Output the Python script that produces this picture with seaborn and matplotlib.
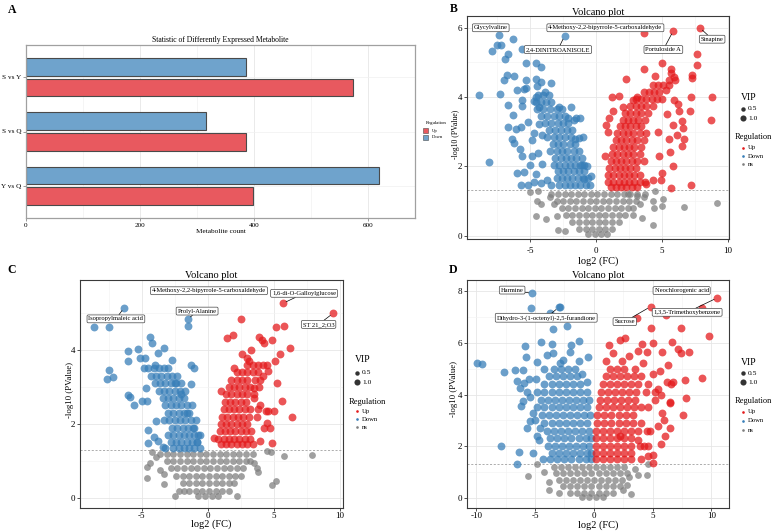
import matplotlib
matplotlib.use('Agg')
import matplotlib.pyplot as plt
from matplotlib.lines import Line2D
from matplotlib.patches import Rectangle
from matplotlib.ticker import MultipleLocator, FixedLocator
import pandas as pd
import seaborn as sns

plt.rcParams['font.family'] = ['Liberation Serif', 'DejaVu Serif']
plt.rcParams['axes.unicode_minus'] = False

# ---------------- Panel A data ----------------
comparisons = ['S vs Y', 'S vs Q', 'Y vs Q']
down_counts = [385, 315, 619]
up_counts = [574, 385, 398]

# ---------------- Panel B data (log2FC, -log10 P) ----------------
b_down = [
    (-8.9, 4.07), (-8.1, 2.11), (-7.4, 5.78), (-7.9, 5.33), (-7.5, 5.49), (-7.2, 5.51), (-6.3, 5.68),
    (-6.9, 5.1), (-6.7, 5.23), (-5.6, 5.39), (-2.4, 5.76), (-7.3, 4.1), (-7.0, 4.48), (-6.8, 4.65),
    (-6.2, 4.6), (-6.7, 3.76), (-6.3, 3.47), (-6.7, 3.12), (-6.1, 3.09), (-6.4, 2.8), (-6.2, 2.66),
    (-5.8, 2.51), (-5.3, 4.98), (-5.3, 4.48), (-5.5, 4.24), (-5.3, 4.27), (-6.0, 4.21), (-5.6, 3.9),
    (-5.6, 3.73), (-5.7, 3.14), (-5.2, 3.28), (-4.7, 2.95), (-4.9, 2.75), (-4.9, 2.29), (-6.0, 1.81),
    (-5.5, 1.84), (-5.7, 1.46), (-5.2, 1.46), (-4.6, 4.98), (-4.2, 4.87), (-4.6, 4.53), (-4.2, 4.43),
    (-4.5, 4.32), (-3.4, 4.40), (-3.9, 4.15), (-4.6, 4.0), (-4.7, 3.89), (-4.3, 3.71), (-4.3, 3.23),
    (-4.1, 2.9), (-4.4, 2.37), (-4.1, 2.08), (-4.6, 1.79), (-4.2, 1.51), (-3.7, 1.6), (-3.4, 1.46),
    (-4.7, 1.54), (-2.8, 3.7), (-2.1, 3.4), (-1.7, 3.35), (-1.6, 2.8), (-1.1, 2.05), (-0.4, 1.72),
    (-0.9, 1.62), (-5.0, 2.05), (-5.6, 2.3), (-1.9, 3.72), (-1.5, 3.39), (-1.2, 3.39), (-1.3, 2.81),
    (-1.0, 2.84), (-0.7, 2.0),
    (-4.4, 4.05), (-4.0, 4.05), (-3.6, 4.05),
    (-4.6, 3.85), (-4.2, 3.85), (-3.8, 3.85), (-3.4, 3.85),
    (-4.5, 3.65), (-4.0, 3.65), (-3.5, 3.65), (-3.0, 3.65), (-2.6, 3.65),
    (-4.2, 3.45), (-3.7, 3.45), (-3.2, 3.45), (-2.8, 3.45), (-2.4, 3.45),
    (-3.9, 3.25), (-3.4, 3.25), (-2.9, 3.25), (-2.5, 3.25), (-2.1, 3.25),
    (-3.6, 3.05), (-3.1, 3.05), (-2.7, 3.05), (-2.2, 3.05), (-1.8, 3.05),
    (-3.7, 2.85), (-3.2, 2.85), (-2.8, 2.85), (-2.4, 2.85), (-1.9, 2.85),
    (-3.3, 2.65), (-2.9, 2.65), (-2.5, 2.65), (-2.0, 2.65), (-1.6, 2.65),
    (-3.5, 2.45), (-3.0, 2.45), (-2.6, 2.45), (-2.2, 2.45), (-1.7, 2.45), (-1.3, 2.45),
    (-3.1, 2.25), (-2.7, 2.25), (-2.3, 2.25), (-1.9, 2.25), (-1.5, 2.25), (-1.1, 2.25),
    (-3.2, 2.05), (-2.8, 2.05), (-2.4, 2.05), (-2.0, 2.05), (-1.6, 2.05), (-1.2, 2.05), (-0.9, 2.05),
    (-2.9, 1.85), (-2.5, 1.85), (-2.1, 1.85), (-1.7, 1.85), (-1.3, 1.85), (-0.9, 1.85),
    (-3.0, 1.65), (-2.6, 1.65), (-2.2, 1.65), (-1.8, 1.65), (-1.4, 1.65), (-1.0, 1.65), (-0.6, 1.65),
    (-2.8, 1.45), (-2.4, 1.45), (-2.0, 1.45), (-1.6, 1.45), (-1.2, 1.45), (-0.8, 1.45), (-0.5, 1.45),
]
b_up = [
    (7.87, 6.0), (5.85, 5.91), (3.64, 5.85), (7.64, 5.24), (7.64, 4.92), (5.0, 4.99), (3.64, 4.8),
    (2.23, 4.51), (7.3, 4.63), (7.25, 4.55), (8.77, 3.99), (8.72, 3.34), (7.23, 4.01), (7.13, 3.6),
    (0.77, 3.19), (5.69, 1.37), (7.18, 1.47), (1.74, 4.03), (2.05, 3.7), (6.2, 3.8), (5.8, 3.2),
    (6.5, 2.6), (6.1, 2.9), (5.5, 2.8), (4.8, 2.3), (5.8, 2.0), (5.0, 1.8), (4.3, 1.6), (3.8, 1.5),
    (6.6, 3.1), (6.3, 3.6), (6.7, 2.8), (5.4, 3.5), (4.7, 3.0), (1.2, 4.0), (1.0, 3.4), (0.9, 3.0),
    (0.7, 2.3), (1.3, 3.6), (2.8, 3.9), (3.1, 4.0), (4.5, 4.6), (5.5, 4.5), (5.7, 4.8), (6.0, 4.5),
    (5.3, 4.2), (5.9, 3.9), (6.5, 3.3), (4.9, 1.6), (5.6, 2.4), (5.7, 4.68), (5.9, 4.58),
    (4.3, 4.35), (4.7, 4.35), (5.1, 4.35), (5.5, 4.35),
    (3.6, 4.15), (4.0, 4.15), (4.4, 4.15), (4.8, 4.15),
    (3.0, 3.95), (3.4, 3.95), (3.8, 3.95), (4.2, 3.95), (4.6, 3.95), (5.0, 3.95),
    (2.6, 3.75), (3.0, 3.75), (3.4, 3.75), (3.8, 3.75), (4.3, 3.75),
    (2.2, 3.55), (2.6, 3.55), (3.0, 3.55), (3.4, 3.55), (3.9, 3.55),
    (2.0, 3.35), (2.4, 3.35), (2.8, 3.35), (3.2, 3.35), (3.7, 3.35),
    (1.8, 3.15), (2.2, 3.15), (2.6, 3.15), (3.0, 3.15), (3.4, 3.15),
    (1.6, 2.95), (2.0, 2.95), (2.4, 2.95), (2.8, 2.95), (3.3, 2.95), (3.8, 2.95),
    (1.5, 2.75), (1.9, 2.75), (2.3, 2.75), (2.7, 2.75), (3.1, 2.75), (3.6, 2.75),
    (1.3, 2.55), (1.7, 2.55), (2.1, 2.55), (2.5, 2.55), (2.9, 2.55), (3.4, 2.55),
    (1.2, 2.35), (1.6, 2.35), (2.0, 2.35), (2.4, 2.35), (2.8, 2.35), (3.3, 2.35),
    (1.1, 2.15), (1.5, 2.15), (1.9, 2.15), (2.3, 2.15), (2.7, 2.15), (3.1, 2.15), (3.6, 2.15),
    (1.0, 1.95), (1.4, 1.95), (1.8, 1.95), (2.2, 1.95), (2.6, 1.95), (3.0, 1.95),
    (0.9, 1.75), (1.3, 1.75), (1.7, 1.75), (2.1, 1.75), (2.5, 1.75), (2.9, 1.75), (3.3, 1.75),
    (0.9, 1.55), (1.3, 1.55), (1.7, 1.55), (2.1, 1.55), (2.5, 1.55), (2.9, 1.55), (3.3, 1.55), (3.7, 1.55),
    (1.1, 1.4), (1.5, 1.4), (1.9, 1.4), (2.3, 1.4), (2.7, 1.4), (3.1, 1.4),
]
b_ns = [
    (-4.4, 1.28), (-5.0, 1.25), (-4.5, 1.0), (-4.2, 0.9), (-4.6, 0.55), (-3.8, 0.48), (-2.9, 0.15),
    (-2.4, 0.12), (-3.0, 0.55), (2.4, 1.2), (3.7, 1.2), (4.3, 1.0), (5.1, 1.05), (6.7, 0.82),
    (9.2, 0.95), (4.3, 0.3), (3.3, 0.9), (4.5, 1.28), (3.1, 1.2), (5.0, 0.85), (4.4, 0.8),
    (-3.5, 1.1), (-3.2, 0.9), (2.8, 0.6), (3.5, 0.5),
    (-3.4, 1.2), (-2.9, 1.2), (-2.4, 1.2), (-1.9, 1.2), (-1.4, 1.2), (-0.9, 1.2), (-0.4, 1.2), (0.1, 1.2),
    (0.6, 1.2), (1.1, 1.2), (1.6, 1.2), (2.1, 1.2), (2.6, 1.2), (3.1, 1.15), (3.6, 1.1),
    (-3.0, 1.0), (-2.5, 1.0), (-2.0, 1.0), (-1.5, 1.0), (-1.0, 1.0), (-0.5, 1.0), (0.0, 1.0), (0.5, 1.0),
    (1.0, 1.0), (1.5, 1.0), (2.0, 1.0), (2.5, 1.0), (3.0, 1.0),
    (-2.6, 0.8), (-2.1, 0.8), (-1.6, 0.8), (-1.1, 0.8), (-0.6, 0.8), (-0.1, 0.8), (0.4, 0.8), (0.9, 0.8),
    (1.4, 0.8), (1.9, 0.8), (2.4, 0.8), (2.8, 0.8),
    (-2.3, 0.6), (-1.8, 0.6), (-1.3, 0.6), (-0.8, 0.6), (-0.3, 0.6), (0.2, 0.6), (0.7, 0.6), (1.2, 0.6),
    (1.7, 0.6), (2.2, 0.6),
    (-1.8, 0.4), (-1.3, 0.4), (-0.8, 0.4), (-0.3, 0.4), (0.2, 0.4), (0.7, 0.4), (1.2, 0.4), (1.7, 0.4),
    (-1.3, 0.2), (-0.8, 0.2), (-0.3, 0.2), (0.2, 0.2), (0.7, 0.2), (1.2, 0.2),
    (-0.6, 0.05), (-0.1, 0.05), (0.4, 0.05), (0.8, 0.05),
]

# ---------------- Panel C data ----------------
c_down = [
    (-6.33, 5.14), (-8.6, 4.61), (-7.5, 4.63), (-1.5, 4.83), (-1.5, 4.66), (-4.4, 4.36), (-4.25, 4.18),
    (-6.0, 3.97), (-5.25, 4.03), (-6.07, 3.69), (-3.3, 4.04), (-3.75, 3.91), (-5.1, 3.79), (-4.75, 3.78),
    (-7.5, 3.46), (-7.2, 3.28), (-7.6, 3.22), (-6.05, 2.79), (-5.9, 2.74), (-5.6, 2.52), (-5.0, 2.63),
    (-4.6, 2.61), (-4.7, 2.98), (-2.7, 3.73), (-1.25, 3.6), (-1.0, 3.5), (-1.25, 3.07), (-4.5, 1.84),
    (-4.5, 1.48), (-3.8, 1.53), (-4.1, 1.64), (-3.4, 1.39), (-3.9, 2.07), (-4.8, 3.5), (-4.0, 3.6),
    (-3.0, 3.5), (-2.5, 3.1), (-2.0, 2.8), (-1.6, 2.3), (-1.0, 1.9), (-0.8, 1.5), (-0.6, 1.7),
    (-4.5, 3.5), (-4.1, 3.5), (-3.7, 3.5), (-3.3, 3.5),
    (-4.3, 3.3), (-3.9, 3.3), (-3.5, 3.3), (-3.1, 3.3), (-2.7, 3.3), (-2.3, 3.3),
    (-4.0, 3.1), (-3.6, 3.1), (-3.2, 3.1), (-2.8, 3.1), (-2.4, 3.1), (-2.0, 3.1),
    (-3.7, 2.9), (-3.3, 2.9), (-2.9, 2.9), (-2.5, 2.9), (-2.1, 2.9), (-1.7, 2.9),
    (-3.4, 2.7), (-3.0, 2.7), (-2.6, 2.7), (-2.2, 2.7), (-1.8, 2.7),
    (-3.2, 2.5), (-2.8, 2.5), (-2.4, 2.5), (-2.0, 2.5), (-1.6, 2.5), (-1.2, 2.5),
    (-3.0, 2.3), (-2.6, 2.3), (-2.2, 2.3), (-1.8, 2.3), (-1.4, 2.3),
    (-3.3, 2.1), (-2.9, 2.1), (-2.5, 2.1), (-2.1, 2.1), (-1.7, 2.1), (-1.3, 2.1), (-0.9, 2.1),
    (-2.7, 1.9), (-2.3, 1.9), (-1.9, 1.9), (-1.5, 1.9), (-1.1, 1.9),
    (-3.0, 1.7), (-2.6, 1.7), (-2.2, 1.7), (-1.8, 1.7), (-1.4, 1.7), (-1.0, 1.7), (-0.7, 1.7),
    (-2.8, 1.5), (-2.4, 1.5), (-2.0, 1.5), (-1.6, 1.5), (-1.2, 1.5), (-0.8, 1.5),
    (-3.2, 1.35), (-2.6, 1.35), (-2.2, 1.35), (-1.8, 1.35), (-1.4, 1.35), (-1.0, 1.35), (-0.6, 1.35),
]
c_up = [
    (9.5, 4.99), (5.7, 5.26), (2.5, 4.83), (1.5, 4.31), (1.95, 4.4), (5.2, 4.63), (5.8, 4.66),
    (6.25, 4.06), (5.45, 3.88), (5.1, 3.7), (5.25, 3.1), (5.6, 2.61), (6.4, 2.18), (4.9, 4.27),
    (3.9, 4.36), (4.1, 4.27), (4.25, 4.18), (4.5, 3.6), (4.6, 3.42), (4.4, 2.34), (5.0, 2.34),
    (4.6, 2.34), (4.0, 1.55), (4.9, 1.48), (4.75, 1.89), (4.5, 2.02), (1.0, 2.88), (0.5, 1.62),
    (2.0, 3.5), (3.0, 3.78), (3.1, 3.69), (3.5, 2.7), (3.5, 2.97), (4.2, 3.3), (3.9, 3.0),
    (4.0, 2.5), (3.7, 2.2), (4.3, 1.9), (2.6, 3.9), (3.3, 4.0),
    (3.0, 3.6), (3.4, 3.6), (3.8, 3.6), (4.2, 3.6),
    (2.2, 3.4), (2.6, 3.4), (3.0, 3.4), (3.4, 3.4), (3.8, 3.4),
    (1.8, 3.2), (2.2, 3.2), (2.6, 3.2), (3.0, 3.2), (3.6, 3.2), (4.0, 3.2),
    (1.6, 3.0), (2.0, 3.0), (2.4, 3.0), (2.8, 3.0), (3.2, 3.0),
    (1.4, 2.8), (1.8, 2.8), (2.2, 2.8), (2.6, 2.8), (3.0, 2.8), (3.5, 2.8),
    (1.3, 2.6), (1.7, 2.6), (2.1, 2.6), (2.5, 2.6), (2.9, 2.6),
    (1.2, 2.4), (1.6, 2.4), (2.0, 2.4), (2.4, 2.4), (2.8, 2.4), (3.2, 2.4), (3.8, 2.4),
    (1.1, 2.2), (1.5, 2.2), (1.9, 2.2), (2.3, 2.2), (2.7, 2.2), (3.1, 2.2),
    (1.0, 2.0), (1.4, 2.0), (1.8, 2.0), (2.2, 2.0), (2.6, 2.0), (3.0, 2.0),
    (0.9, 1.8), (1.3, 1.8), (1.7, 1.8), (2.1, 1.8), (2.5, 1.8), (2.9, 1.8), (3.3, 1.8),
    (0.8, 1.6), (1.2, 1.6), (1.6, 1.6), (2.0, 1.6), (2.4, 1.6), (2.8, 1.6), (3.2, 1.6),
    (1.0, 1.45), (1.4, 1.45), (1.8, 1.45), (2.2, 1.45), (2.6, 1.45), (3.0, 1.45), (3.4, 1.45),
]
c_ns = [
    (-4.2, 1.25), (-4.6, 0.85), (-4.4, 0.95), (-3.3, 0.65), (-3.6, 0.75), (-4.6, 0.55), (-3.3, 0.37),
    (-2.2, 0.2), (-1.8, 0.2), (-2.5, 0.05), (4.5, 1.28), (5.8, 1.13), (7.9, 1.15), (4.9, 0.35),
    (5.2, 0.45), (3.7, 0.8), (3.5, 0.95), (2.2, 0.05), (3.2, 1.0), (3.8, 0.7), (4.8, 1.25), (-3.9, 1.1),
    (-3.6, 1.2), (-3.1, 1.2), (-2.6, 1.2), (-2.1, 1.2), (-1.6, 1.2), (-1.1, 1.2), (-0.6, 1.2), (-0.1, 1.2),
    (0.4, 1.2), (0.9, 1.2), (1.4, 1.2), (1.9, 1.2), (2.4, 1.2), (2.9, 1.2), (3.4, 1.2),
    (-3.1, 1.0), (-2.6, 1.0), (-2.1, 1.0), (-1.6, 1.0), (-1.1, 1.0), (-0.6, 1.0), (-0.1, 1.0), (0.4, 1.0),
    (0.9, 1.0), (1.4, 1.0), (1.9, 1.0), (2.4, 1.0), (2.9, 1.0),
    (-2.8, 0.8), (-2.3, 0.8), (-1.8, 0.8), (-1.3, 0.8), (-0.8, 0.8), (-0.3, 0.8), (0.2, 0.8), (0.7, 0.8),
    (1.2, 0.8), (1.7, 0.8), (2.2, 0.8), (2.7, 0.8),
    (-2.4, 0.6), (-1.9, 0.6), (-1.4, 0.6), (-0.9, 0.6), (-0.4, 0.6), (0.1, 0.6), (0.6, 0.6), (1.1, 0.6),
    (1.6, 0.6), (2.1, 0.6), (2.5, 0.6),
    (-1.9, 0.4), (-1.4, 0.4), (-0.9, 0.4), (-0.4, 0.4), (0.1, 0.4), (0.6, 0.4), (1.1, 0.4), (1.6, 0.4), (2.0, 0.4),
    (-1.4, 0.2), (-0.9, 0.2), (-0.4, 0.2), (0.1, 0.2), (0.6, 0.2), (1.1, 0.2), (1.6, 0.2),
    (-0.7, 0.05), (-0.2, 0.05), (0.3, 0.05), (0.8, 0.05),
]

# ---------------- Panel D data ----------------
d_down = [
    (-5.23, 7.91), (-5.37, 7.33), (-2.88, 7.4), (-3.0, 7.37), (-3.73, 7.14), (-3.45, 6.53), (-2.3, 6.66),
    (-9.9, 5.21), (-9.5, 5.17), (-7.6, 4.89), (-6.7, 4.95), (-5.85, 5.89), (-5.8, 5.47), (-6.0, 4.95),
    (-6.55, 4.53), (-6.25, 4.24), (-5.9, 4.44), (-5.7, 4.09), (-6.05, 3.76), (-6.2, 3.54), (-5.7, 2.7),
    (-5.4, 2.96), (-7.9, 2.02), (-6.35, 1.78), (-6.5, 1.32), (-5.15, 1.74), (-4.64, 2.25), (-4.87, 2.38),
    (-4.5, 6.02), (-3.53, 5.94), (-4.0, 5.53), (-4.8, 5.27), (-3.45, 5.59), (-1.9, 5.92), (-1.25, 6.07),
    (-2.03, 5.66), (-0.48, 5.47), (-2.6, 5.34), (-5.2, 3.3), (-5.4, 3.9), (-4.9, 4.6), (-5.0, 3.0),
    (-4.6, 2.7), (-1.0, 4.8), (-0.6, 4.5), (-4.2, 5.0), (-2.9, 5.2), (-5.5, 4.6), (-1.3, 5.3),
    (-3.4, 5.0), (-2.8, 5.0), (-2.2, 5.0), (-1.6, 5.0),
    (-3.8, 4.7), (-3.2, 4.7), (-2.6, 4.7), (-2.0, 4.7), (-1.4, 4.7),
    (-4.2, 4.4), (-3.6, 4.4), (-3.0, 4.4), (-2.4, 4.4), (-1.8, 4.4), (-1.2, 4.4),
    (-4.8, 4.1), (-4.2, 4.1), (-3.6, 4.1), (-3.0, 4.1), (-2.4, 4.1), (-1.8, 4.1), (-1.2, 4.1), (-0.6, 4.1),
    (-4.5, 3.8), (-3.9, 3.8), (-3.3, 3.8), (-2.7, 3.8), (-2.1, 3.8), (-1.5, 3.8), (-0.9, 3.8), (-0.4, 3.8),
    (-4.8, 3.5), (-4.2, 3.5), (-3.6, 3.5), (-3.0, 3.5), (-2.4, 3.5), (-1.8, 3.5), (-1.2, 3.5), (-0.6, 3.5),
    (-4.4, 3.2), (-3.8, 3.2), (-3.2, 3.2), (-2.6, 3.2), (-2.0, 3.2), (-1.4, 3.2), (-0.8, 3.2), (-0.3, 3.2),
    (-4.2, 2.9), (-3.6, 2.9), (-3.0, 2.9), (-2.4, 2.9), (-1.8, 2.9), (-1.2, 2.9), (-0.6, 2.9),
    (-4.0, 2.6), (-3.4, 2.6), (-2.8, 2.6), (-2.2, 2.6), (-1.6, 2.6), (-1.0, 2.6), (-0.4, 2.6),
    (-3.7, 2.3), (-3.1, 2.3), (-2.5, 2.3), (-1.9, 2.3), (-1.3, 2.3), (-0.7, 2.3), (-0.2, 2.3),
    (-3.9, 2.0), (-3.3, 2.0), (-2.7, 2.0), (-2.1, 2.0), (-1.5, 2.0), (-0.9, 2.0), (-0.4, 2.0),
    (-3.6, 1.75), (-3.0, 1.75), (-2.4, 1.75), (-1.8, 1.75), (-1.2, 1.75), (-0.6, 1.75), (-0.2, 1.75),
    (-4.3, 1.5), (-3.7, 1.5), (-3.1, 1.5), (-2.5, 1.5), (-1.9, 1.5), (-1.3, 1.5), (-0.7, 1.5), (-0.2, 1.5),
]
d_up = [
    (10.5, 7.74), (4.83, 7.4), (9.2, 7.33), (3.67, 6.95), (6.17, 7.07), (7.43, 6.59), (4.89, 6.59),
    (9.79, 6.28), (2.63, 6.17), (2.2, 6.11), (4.07, 5.94), (5.03, 5.98), (4.55, 5.66), (5.83, 5.66),
    (6.68, 6.02), (7.18, 5.75), (7.38, 5.62), (8.06, 5.63), (6.3, 5.14), (7.72, 4.57), (9.19, 4.63),
    (7.8, 3.86), (7.58, 3.22), (6.73, 4.5), (6.45, 3.67), (6.45, 2.7), (6.02, 2.4), (5.03, 1.67),
    (5.03, 1.35), (4.6, 1.61), (3.76, 2.25), (2.2, 2.38), (5.5, 4.2), (5.7, 4.0), (5.2, 3.8),
    (5.8, 3.3), (6.0, 3.0), (5.5, 2.8), (4.8, 2.6), (5.7, 2.1), (4.3, 2.0), (6.5, 3.7), (6.2, 4.5),
    (6.6, 4.4), (1.6, 5.6), (2.4, 5.3), (3.0, 5.5), (3.5, 5.0), (4.2, 5.2), (5.0, 4.8), (5.6, 4.9),
    (4.0, 4.7), (1.0, 5.3), (1.3, 5.9), (3.8, 5.7),
    (1.4, 5.0), (2.0, 5.0), (2.6, 5.0),
    (1.0, 4.7), (1.6, 4.7), (2.2, 4.7), (2.8, 4.7), (3.4, 4.7),
    (0.8, 4.4), (1.4, 4.4), (2.0, 4.4), (2.6, 4.4), (3.2, 4.4), (3.8, 4.4), (4.6, 4.4),
    (0.6, 4.1), (1.2, 4.1), (1.8, 4.1), (2.4, 4.1), (3.0, 4.1), (3.6, 4.1), (4.4, 4.1), (5.2, 4.1),
    (0.5, 3.8), (1.1, 3.8), (1.7, 3.8), (2.3, 3.8), (2.9, 3.8), (3.5, 3.8),
    (0.4, 3.5), (1.0, 3.5), (1.6, 3.5), (2.2, 3.5), (2.8, 3.5), (3.4, 3.5), (4.0, 3.5), (4.6, 3.5),
    (0.3, 3.2), (0.9, 3.2), (1.5, 3.2), (2.1, 3.2), (2.7, 3.2), (3.3, 3.2),
    (0.3, 2.9), (0.9, 2.9), (1.5, 2.9), (2.1, 2.9), (2.7, 2.9), (3.3, 2.9), (4.0, 2.9),
    (0.2, 2.6), (0.8, 2.6), (1.4, 2.6), (2.0, 2.6), (2.6, 2.6), (3.2, 2.6), (3.8, 2.6), (4.5, 2.6),
    (0.2, 2.3), (0.8, 2.3), (1.4, 2.3), (2.0, 2.3), (2.6, 2.3), (3.2, 2.3),
    (0.2, 2.0), (0.8, 2.0), (1.4, 2.0), (2.0, 2.0), (2.6, 2.0), (3.2, 2.0), (3.9, 2.0), (4.6, 2.0),
    (0.2, 1.75), (0.8, 1.75), (1.4, 1.75), (2.0, 1.75), (2.6, 1.75), (3.2, 1.75),
    (0.2, 1.5), (0.8, 1.5), (1.4, 1.5), (2.0, 1.5), (2.6, 1.5), (3.2, 1.5), (4.0, 1.5),
]
d_ns = [
    (-5.6, 0.85), (-4.8, 1.3), (-3.8, 0.3), (4.5, 0.9), (3.2, 0.15), (2.8, 0.5), (4.6, 1.3),
    (3.5, 1.1), (3.8, 0.9), (-4.2, 1.0), (-3.0, 0.2), (2.5, 0.3), (3.0, 0.8), (-3.8, 0.6),
    (-3.4, 1.2), (-2.8, 1.2), (-2.2, 1.2), (-1.6, 1.2), (-1.0, 1.2), (-0.4, 1.2), (0.2, 1.2), (0.8, 1.2),
    (1.4, 1.2), (2.0, 1.2), (2.6, 1.2),
    (-3.2, 0.95), (-2.6, 0.95), (-2.0, 0.95), (-1.4, 0.95), (-0.8, 0.95), (-0.2, 0.95), (0.4, 0.95),
    (1.0, 0.95), (1.6, 0.95), (2.2, 0.95), (2.8, 0.95),
    (-3.0, 0.7), (-2.4, 0.7), (-1.8, 0.7), (-1.2, 0.7), (-0.6, 0.7), (0.0, 0.7), (0.6, 0.7), (1.2, 0.7),
    (1.8, 0.7), (2.4, 0.7),
    (-2.6, 0.45), (-2.0, 0.45), (-1.4, 0.45), (-0.8, 0.45), (-0.2, 0.45), (0.4, 0.45), (1.0, 0.45),
    (1.6, 0.45), (2.2, 0.45),
    (-2.0, 0.2), (-1.4, 0.2), (-0.8, 0.2), (-0.2, 0.2), (0.4, 0.2), (1.0, 0.2), (1.6, 0.2),
    (-1.0, 0.05), (-0.4, 0.05), (0.2, 0.05), (0.8, 0.05),
]

# ---------------- styling ----------------
W, H = 775, 531
UP_BAR, DOWN_BAR = '#E8595F', '#6FA3CC'
PAL = {'Up': '#E41A1C', 'Down': '#377EB8', 'ns': '#7F7F7F'}

fig = plt.figure(figsize=(W / 100, H / 100), dpi=100)


def ax_at(l, t, r, b):
    return fig.add_axes([l / W, 1 - b / H, (r - l) / W, (b - t) / H])


def ftext(x, y, s, **kw):
    fig.text(x / W, 1 - y / H, s, **kw)


def fdot(x, y, color, ms):
    fig.add_artist(Line2D([x / W], [1 - y / H], marker='o', color=color, ms=ms, ls='',
                          mew=0, transform=fig.transFigure))


# ---------------- Panel A ----------------
axA = ax_at(26, 45, 415, 218)
dfA = pd.DataFrame({'Comparison': comparisons * 2,
                    'Count': down_counts + up_counts,
                    'Regulation': ['Down'] * 3 + ['Up'] * 3})
axA.set_axisbelow(True)
sns.barplot(data=dfA, y='Comparison', x='Count', hue='Regulation', hue_order=['Down', 'Up'],
            palette={'Up': UP_BAR, 'Down': DOWN_BAR}, orient='h', width=0.75, gap=0.12,
            edgecolor='#4a4a4a', linewidth=0.8, saturation=1, legend=False, ax=axA)
axA.set_xlim(0, 682)
axA.set_ylim(2.6, -0.6)
axA.xaxis.set_major_locator(FixedLocator([0, 200, 400, 600]))
axA.xaxis.set_minor_locator(FixedLocator([100, 300, 500]))
axA.grid(axis='x', which='major', color='#E6E6E6', lw=0.6)
axA.grid(axis='x', which='minor', color='#F2F2F2', lw=0.5)
axA.grid(axis='y', which='major', color='#F0F0F0', lw=0.5)
for sp in axA.spines.values():
    sp.set_color('#A0A0A0')
    sp.set_linewidth(0.9)
axA.tick_params(axis='both', which='major', labelsize=5.2, length=2, width=0.6, color='#888888', pad=1.5)
axA.tick_params(which='minor', length=0)
axA.set_ylabel('')
axA.set_xlabel('Metabolite count', fontsize=5.2, labelpad=0.5)
axA.text(0.5, 1 + 2.5 / 173, 'Statistic of Differently Expressed Metabolite', transform=axA.transAxes,
         ha='center', va='baseline', fontsize=5.5)

# Legend A
ftext(426, 123, 'Regulation', fontsize=3.4, ha='left', va='center')
for yy, col, lab in ((130.7, UP_BAR, 'Up'), (137.3, DOWN_BAR, 'Down')):
    fig.add_artist(Rectangle((423 / W, 1 - (yy + 2.5) / H), 4.7 / W, 5 / H, transform=fig.transFigure,
                             fc=col, ec='#4a4a4a', lw=0.4))
    ftext(431.5, yy, lab, fontsize=3.3, ha='left', va='center')


# ---------------- Volcano helpers ----------------
def volcano(ax, up, down, ns, xlim, ylim, xticks, yticks, xpad, xlab_off, title_off,
            ylab_size, ylab_y, ylab_x):
    df = pd.DataFrame([(x, y, 'ns') for x, y in ns] + [(x, y, 'Down') for x, y in down] +
                      [(x, y, 'Up') for x, y in up], columns=['log2FC', 'logP', 'Regulation'])
    ax.set_axisbelow(True)
    for g, s in (('ns', 24), ('Down', 32), ('Up', 32)):
        sns.scatterplot(data=df[df['Regulation'] == g], x='log2FC', y='logP', color=PAL[g], s=s,
                        alpha=0.74, linewidth=0, legend=False, ax=ax, zorder=3)
    ax.axhline(1.30103, color='#A0A0A0', lw=0.6, ls=(0, (2.5, 2)), zorder=2)
    ax.set_xlim(*xlim)
    ax.set_ylim(*ylim)
    ax.xaxis.set_major_locator(FixedLocator(xticks))
    ax.yaxis.set_major_locator(FixedLocator(yticks))
    ax.xaxis.set_minor_locator(MultipleLocator(2.5))
    step = yticks[1] - yticks[0]
    ax.yaxis.set_minor_locator(FixedLocator([v + step / 2 for v in yticks]))
    ax.grid(which='major', color='#E6E6E6', lw=0.6)
    ax.grid(which='minor', color='#F3F3F3', lw=0.45)
    for sp in ax.spines.values():
        sp.set_color('#3a3a3a')
        sp.set_linewidth(0.8)
    ax.tick_params(axis='both', which='major', labelsize=6.5, length=2.5, width=0.6, color='#333333')
    ax.tick_params(axis='x', pad=xpad)
    ax.tick_params(axis='y', pad=1.0)
    ax.tick_params(which='minor', length=0)
    ax.set_xlabel('log2 (FC)', fontsize=7.5)
    ax.set_ylabel('-log10 (PValue)', fontsize=ylab_size)
    h = ax.get_position().height * H
    w = ax.get_position().width * W
    ax.xaxis.set_label_coords(0.5, -xlab_off / h)
    ax.xaxis.label.set_va('center')
    ax.yaxis.set_label_coords(-ylab_x / w, ylab_y)
    ax.yaxis.label.set_va('center')
    ax.text(0.5, 1 + title_off / h, 'Volcano plot', transform=ax.transAxes, ha='center',
            va='baseline', fontsize=7.5)


BOX = dict(boxstyle='round,pad=0.22,rounding_size=0.2', fc='white', ec='#444444', lw=0.5)


def label(ax, text, pt, pos, line=True):
    if line:
        ax.annotate(text, xy=pt, xytext=pos, fontsize=4.7, ha='center', va='center', bbox=BOX, zorder=6,
                    arrowprops=dict(arrowstyle='-', color='black', lw=0.5, shrinkA=0, shrinkB=2.5))
    else:
        ax.text(pos[0], pos[1], text, fontsize=4.7, ha='center', va='center', bbox=BOX, zorder=6)


def volcano_legend(right, ys):
    y_vip, y05, y10, y_reg, y_up, y_dn, y_ns = ys
    ftext(right + 12, y_vip, 'VIP', fontsize=7, ha='left', va='center')
    fdot(right + 14, y05, '#333333', 3.2)
    ftext(right + 19, y05, '0.5', fontsize=5.4, ha='left', va='center')
    fdot(right + 14, y10, '#333333', 4.4)
    ftext(right + 19, y10, '1.0', fontsize=5.4, ha='left', va='center')
    ftext(right + 6, y_reg, 'Regulation', fontsize=6, ha='left', va='center')
    for yy, g, lab in ((y_up, 'Up', 'Up'), (y_dn, 'Down', 'Down'), (y_ns, 'ns', 'ns')):
        fdot(right + 14, yy, PAL[g], 1.9)
        ftext(right + 19, yy, lab, fontsize=4.8, ha='left', va='center')


# ---------------- Panel B ----------------
axB = ax_at(467, 16, 729, 239)
volcano(axB, b_up, b_down, b_ns, (-9.8, 10.08), (-0.1, 6.34), [-5, 0, 5, 10], [0, 2, 4, 6],
        xpad=3.5, xlab_off=22.5, title_off=0.8, ylab_size=5.6, ylab_y=0.47, ylab_x=11)
label(axB, 'Glycylvaline', (-7.4, 5.78), (-8.0, 6.0), line=False)
label(axB, '4-Methoxy-2,2-bipyrrole-5-carboxaldehyde', (3.64, 5.85), (0.7, 6.0), line=False)
label(axB, '2,4-DINITROANISOLE', (-2.4, 5.76), (-2.9, 5.37))
label(axB, 'Portuloside A', (5.85, 5.91), (5.1, 5.37))
label(axB, 'Sinapine', (7.87, 6.0), (8.8, 5.67))
volcano_legend(729, (97, 109, 118, 137, 148, 156, 164))

# ---------------- Panel C ----------------
axC = ax_at(80, 280, 343, 508)
volcano(axC, c_up, c_down, c_ns, (-9.67, 10.25), (-0.27, 5.89), [-5, 0, 5, 10], [0, 2, 4],
        xpad=0.5, xlab_off=16.5, title_off=2.4, ylab_size=6.3, ylab_y=0.518, ylab_x=10)
label(axC, 'Isopropylmaleic acid', (-6.33, 5.14), (-6.95, 4.84))
label(axC, 'Prolyl-Alanine', (-1.5, 4.83), (-0.8, 5.05))
label(axC, '4-Methoxy-2,2-bipyrrole-5-carboxaldehyde', (0.1, 5.6), (0.1, 5.6), line=False)
label(axC, '1,6-di-O-Galloylglucose', (5.7, 5.26), (7.3, 5.53))
label(axC, 'ST 21_2;O3', (9.5, 4.99), (8.4, 4.69))
volcano_legend(343, (360, 372.7, 382, 401.7, 411, 419.3, 427.3))

# ---------------- Panel D ----------------
axD = ax_at(467, 280, 729, 508)
volcano(axD, d_up, d_down, d_ns, (-10.79, 11.5), (-0.39, 8.43), [-10, -5, 0, 5, 10], [0, 2, 4, 6, 8],
        xpad=0.5, xlab_off=17, title_off=1.7, ylab_size=6.3, ylab_y=0.523, ylab_x=13)
label(axD, 'Harmine', (-5.23, 7.91), (-6.95, 8.04))
label(axD, 'Dihydro-3-(1-octenyl)-2,5-furandione', (-3.0, 7.37), (-4.05, 6.97))
label(axD, 'Neochlorogenic acid', (7.47, 8.02), (7.47, 8.02), line=False)
label(axD, '1,3,5-Trimethoxybenzene', (10.5, 7.74), (7.94, 7.18))
label(axD, 'Sucrose', (4.83, 7.4), (2.63, 6.82))
volcano_legend(729, (362.7, 373.3, 382, 400.7, 411.7, 421, 430))

# ---------------- Panel letters ----------------
for x, y, s in ((11.7, 9.7, 'A'), (453.5, 9.0, 'B'), (11.7, 270, 'C'), (453.5, 270, 'D')):
    ftext(x, y, s, fontsize=8.5, fontweight='bold', ha='center', va='center')

fig.savefig('out.png', dpi=100)
